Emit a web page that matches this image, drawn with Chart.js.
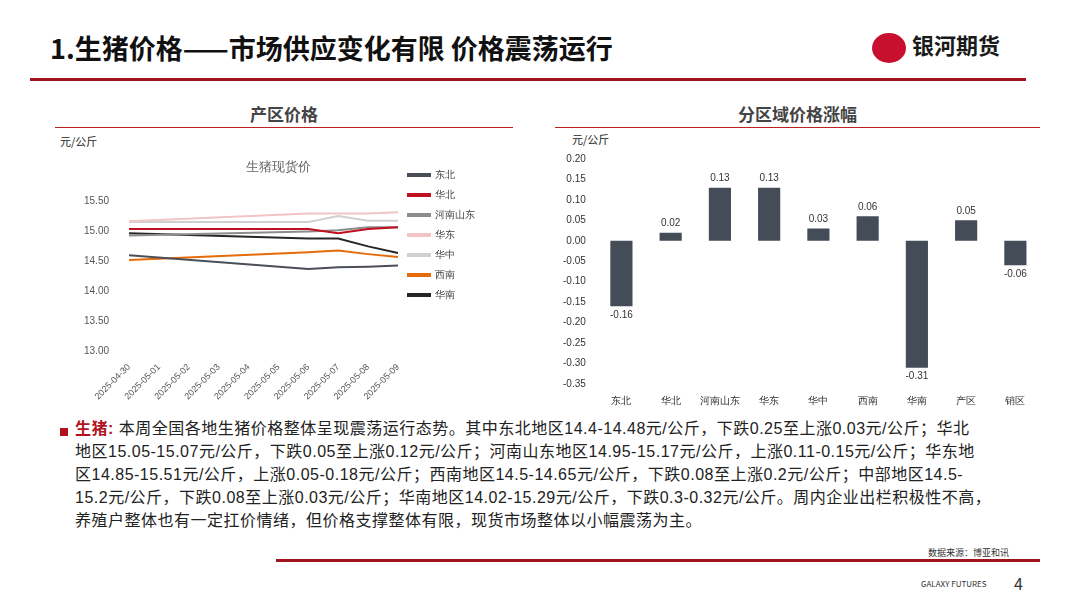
<!DOCTYPE html>
<html>
<head>
<meta charset="utf-8">
<script src="https://cdn.jsdelivr.net/npm/chart.js@4.4.0/dist/chart.umd.min.js"></script>
<style>
body { margin: 0; width: 1080px; height: 608px; background: #fff; font-family: "Noto Sans CJK SC", "Noto Sans", sans-serif; position: relative; overflow: hidden; }
.abs { position: absolute; }
#title { left: 50px; top: 28px; font-size: 27px; font-weight: bold; color: #111; }
#logo { left: 872px; top: 28px; font-size: 22px; font-weight: bold; color: #1a1a1a; }
#logo span { display: inline-block; width: 34px; height: 30px; border-radius: 50%; background: #c8102e; vertical-align: middle; margin-right: 6px; }
.sub { font-size: 17px; font-weight: bold; color: #444; text-align: center; }
.unit { font-size: 11px; color: #222; }
#para { left: 75px; top: 417px; font-family: "Liberation Sans", "Noto Sans CJK SC", sans-serif; font-size: 16px; letter-spacing: 0.5px; line-height: 23px; color: #222; white-space: nowrap; }
</style>
</head>
<body>
<div class="abs" id="title">1.生猪价格——市场供应变化有限 价格震荡运行</div>
<div class="abs" id="logo"><span></span>银河期货</div>
<div class="abs" style="left:30px;top:78px;width:996px;height:3px;background:#a0141e"></div>
<div class="abs sub" style="left:55px;top:101px;width:458px">产区价格</div>
<div class="abs" style="left:55px;top:127px;width:458px;height:1px;background:#b22"></div>
<div class="abs sub" style="left:555px;top:101px;width:485px">分区域价格涨幅</div>
<div class="abs" style="left:555px;top:127px;width:485px;height:1px;background:#b22"></div>
<div class="abs unit" style="left:60px;top:133px">元/公斤</div>
<div class="abs unit" style="left:572px;top:131px">元/公斤</div>
<div class="abs" style="left:72px;top:160px;width:423px;height:245px"><canvas id="lineChart"></canvas></div>
<div class="abs" style="left:560px;top:150px;width:480px;height:260px"><canvas id="barChart"></canvas></div>
<div class="abs" style="left:60px;top:428px;width:8px;height:8px;background:#b0121e"></div>
<div class="abs" id="para"><b style="color:#b0121e">生猪:</b> 本周全国各地生猪价格整体呈现震荡运行态势。其中东北地区14.4-14.48元/公斤，下跌0.25至上涨0.03元/公斤；华北<br>地区15.05-15.07元/公斤，下跌0.05至上涨0.12元/公斤；河南山东地区14.95-15.17元/公斤，上涨0.11-0.15元/公斤；华东地<br>区14.85-15.51元/公斤，上涨0.05-0.18元/公斤；西南地区14.5-14.65元/公斤，下跌0.08至上涨0.2元/公斤；中部地区14.5-<br>15.2元/公斤，下跌0.08至上涨0.03元/公斤；华南地区14.02-15.29元/公斤，下跌0.3-0.32元/公斤。周内企业出栏积极性不高，<br>养殖户整体也有一定扛价情绪，但价格支撑整体有限，现货市场整体以小幅震荡为主。</div>
<div class="abs" style="left:928px;top:546px;font-size:9px;color:#333">数据来源：博亚和讯</div>
<div class="abs" style="left:276px;top:559px;width:764px;height:3px;background:#a0141e"></div>
<div class="abs" style="left:921px;top:578px;font-size:8px;color:#333">GALAXY FUTURES</div>
<div class="abs" style="left:1014px;top:571px;font-size:16px;color:#333">4</div>
<script>
const dates = ["2025-04-30","2025-05-01","2025-05-02","2025-05-03","2025-05-04","2025-05-05","2025-05-06","2025-05-07","2025-05-08","2025-05-09"];
const dongbei = [14.60,null,null,null,null,null,14.37,14.40,14.41,14.43];
const huabei = [15.04,null,null,null,null,null,15.04,14.97,15.04,15.07];
const henanShandong = [14.93,null,null,null,null,null,15.00,15.02,15.07,15.07];
const huadong = [15.17,null,null,null,null,null,15.30,15.30,15.30,15.32];
const huazhong = [15.16,null,null,null,null,null,15.16,15.26,15.18,15.18];
const xinan = [14.52,null,null,null,null,null,14.65,14.68,14.62,14.57];
const huanan = [14.97,null,null,null,null,null,14.88,14.88,14.75,14.64];

const regions = ["东北","华北","河南山东","华东","华中","西南","华南","产区","销区"];
const changes = [-0.16,0.02,0.13,0.13,0.03,0.06,-0.31,0.05,-0.06];
const yTicks = [0.20,0.15,0.10,0.05,0.00,-0.05,-0.10,-0.15,-0.20,-0.25,-0.30,-0.35];

const tickFont = { family: "Liberation Sans, Noto Sans CJK SC", size: 10 };

function series(label, data, color) {
	return { label: label, data: data, borderColor: color, backgroundColor: color, borderWidth: 2, pointRadius: 0, spanGaps: true, tension: 0 };
}

new Chart(document.getElementById("lineChart"), {
	type: "line",
	data: {
		labels: dates,
		datasets: [
			series("东北", dongbei, "#4a4f57"),
			series("华北", huabei, "#c00f1e"),
			series("河南山东", henanShandong, "#8c8c8c"),
			series("华东", huadong, "#f2c4c6"),
			series("华中", huazhong, "#cfd0d2"),
			series("西南", xinan, "#e46c0a"),
			series("华南", huanan, "#262626"),
		],
	},
	options: {
		responsive: true,
		maintainAspectRatio: false,
		animation: false,
		layout: { padding: { right: 10 } },
		plugins: {
			title: { display: true, text: "生猪现货价", color: "#666", font: { size: 13, weight: "normal" }, padding: { bottom: 26 } },
			legend: {
				position: "right",
				align: "start",
				labels: { boxWidth: 22, boxHeight: 2, color: "#444", font: { size: 10 }, padding: 10 },
			},
		},
		scales: {
			x: {
				grid: { display: false },
				border: { display: false },
				ticks: { color: "#555", font: { family: "Liberation Sans", size: 9 }, maxRotation: 45, minRotation: 45 },
			},
			y: {
				min: 13, max: 15.5,
				grid: { display: false },
				border: { display: false },
				ticks: { stepSize: 0.5, color: "#555", font: tickFont, padding: 12, callback: (v) => v.toFixed(2) },
			},
		},
	},
});

// value labels above / below each bar
const barLabels = {
	id: "barLabels",
	afterDatasetsDraw(chart) {
		const ctx = chart.ctx;
		const meta = chart.getDatasetMeta(0);
		ctx.save();
		ctx.font = "10px Liberation Sans";
		ctx.fillStyle = "#333";
		ctx.textAlign = "center";
		meta.data.forEach((bar, i) => {
			const v = changes[i];
			if (v >= 0) {
				ctx.textBaseline = "bottom";
				ctx.fillText(v.toFixed(2), bar.x, bar.y - 4);
			} else {
				ctx.textBaseline = "top";
				ctx.fillText(v.toFixed(2), bar.x, bar.y + 4);
			}
		});
		ctx.restore();
	},
};

new Chart(document.getElementById("barChart"), {
	type: "bar",
	data: {
		labels: regions,
		datasets: [{ data: changes, backgroundColor: "#444c58", barPercentage: 0.45, categoryPercentage: 1 }],
	},
	plugins: [barLabels],
	options: {
		responsive: true,
		maintainAspectRatio: false,
		animation: false,
		plugins: { legend: { display: false } },
		scales: {
			x: {
				grid: { display: false },
				border: { display: false },
				ticks: { color: "#333", font: { size: 10 } },
			},
			y: {
				min: -0.35, max: 0.2,
				grid: { display: false },
				border: { display: false },
				afterBuildTicks: (axis) => { axis.ticks = yTicks.map((v) => ({ value: v })); },
				ticks: { color: "#333", font: tickFont, callback: (v) => v.toFixed(2) },
			},
		},
	},
});
</script>
</body>
</html>
